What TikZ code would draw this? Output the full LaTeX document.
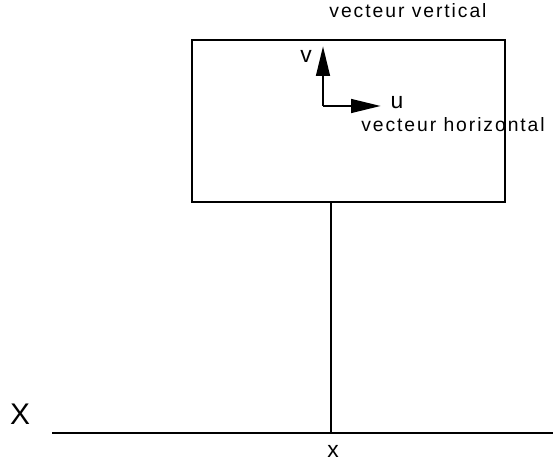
\documentclass[tikz,border=0pt]{standalone}
\usepackage{fontspec}
\setmainfont{Liberation Sans}
\newfontfamily\scanfont[LetterSpace=10]{Liberation Sans}
\usetikzlibrary{positioning,arrows.meta}

\begin{document}
\begin{tikzpicture}[
    every node/.style={font=\scanfont\fontsize{11}{13}\selectfont, inner sep=0pt},
    cadre/.style={draw, line width=1.5pt, minimum width=6.26cm, minimum height=3.24cm},
    trait/.style={line width=1.5pt},
    vecteur/.style={-{Triangle[length=0.6cm, width=0.27cm]}, line width=1.7pt},
    grand/.style={font=\fontsize{13}{15}\selectfont},
]

% page frame
\useasboundingbox (0,0) rectangle (11.06,9.24);

% the box on its stem
\node[cadre] (cadre) at (6.97,6.82) {};
\coordinate (pied) at (6.62,0.58);
\draw[trait] (pied |- cadre.south) -- (pied);

% axis
\coordinate (axeG) at (1.04,0.58);
\coordinate (axeD) at (11.06,0.58);
\draw[trait] (axeG) -- (axeD);
\node[font=\fontsize{17}{19}\selectfont] (X) at (0.40,0.96) {X};
\node[grand] (x) at (6.66,0.22) {x};

% the two vectors
\coordinate (o) at (6.46,7.12);
\coordinate (vtip) at (6.46,8.32);
\coordinate (utip) at (7.62,7.12);
\draw[vecteur] (o) -- (vtip);
\draw[vecteur] (o) -- (utip);
\node[grand] (v) at (6.12,8.12) {v};
\node[grand] (u) at (7.94,7.18) {u};

% captions
\node (vvert) at (8.16,9.02) {vecteur vertical};
\node (vhor) at (9.06,6.74) {vecteur horizontal};

\end{tikzpicture}
\end{document}
